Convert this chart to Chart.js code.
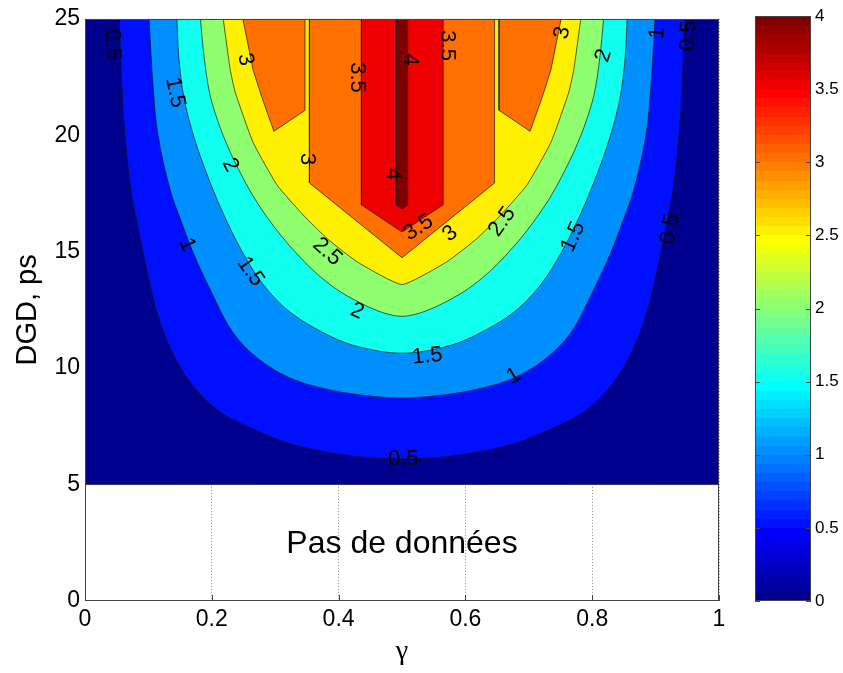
<!DOCTYPE html>
<html><head><meta charset="utf-8">
<script src="https://cdn.jsdelivr.net/npm/chart.js@4.4.1/dist/chart.umd.min.js"></script>
<style>
html,body{margin:0;padding:0;background:#fff;}
#wrap{position:relative;width:843px;height:673px;overflow:hidden;}
#main{position:absolute;left:0;top:0;}
#cbar{position:absolute;left:740px;top:0;}
</style></head><body>
<div id="wrap"><canvas id="main" width="843" height="673"></canvas><canvas id="cbar" width="103" height="673"></canvas></div>
<script>
// ---------------- data ----------------
const levels = [0.5, 1, 1.5, 2, 2.5, 3, 3.5, 4];
const xTicks = [0, 0.2, 0.4, 0.6, 0.8, 1];
const yTicks = [0, 5, 10, 15, 20, 25];
const cbTicks = [0, 0.5, 1, 1.5, 2, 2.5, 3, 3.5, 4];
const cbRange = [0, 4];

// lower edge of the region with data (γ, DGD)
const dataFloor = [[0, 5], [1, 5]];

// contour lines (γ, DGD ps)
const contour0_5 = [[0.054,25],[0.058,22.26],[0.063,20.04],[0.073,17.56],[0.082,16.28],[0.098,14.15],[0.118,12.01],[0.145,10.30],[0.177,9.02],[0.218,8.03],[0.272,7.31],[0.324,6.75],[0.387,6.37],[0.450,6.15],[0.500,6.11],[0.550,6.15],[0.613,6.37],[0.676,6.75],[0.728,7.31],[0.782,8.03],[0.823,9.02],[0.855,10.30],[0.882,12.01],[0.902,14.15],[0.918,16.28],[0.927,17.56],[0.937,20.04],[0.942,22.26],[0.946,25]];
const contour1_0 = [[0.101,25],[0.107,22.26],[0.115,20.04],[0.134,17.69],[0.152,16.28],[0.172,14.87],[0.199,13.29],[0.232,11.58],[0.272,10.43],[0.324,9.57],[0.387,9.06],[0.450,8.80],[0.500,8.72],[0.550,8.80],[0.613,9.06],[0.676,9.57],[0.728,10.43],[0.768,11.58],[0.801,13.29],[0.828,14.87],[0.848,16.28],[0.866,17.69],[0.885,20.04],[0.893,22.26],[0.899,25]];
const contour1_5 = [[0.145,25],[0.148,23.33],[0.156,21.62],[0.172,19.91],[0.194,18.21],[0.219,16.58],[0.248,15.00],[0.281,13.59],[0.324,12.39],[0.387,11.37],[0.434,10.90],[0.500,10.64],[0.566,10.90],[0.613,11.37],[0.676,12.39],[0.719,13.59],[0.752,15.00],[0.781,16.58],[0.806,18.21],[0.828,19.91],[0.844,21.62],[0.852,23.33],[0.855,25]];
const contour2_0 = [[0.182,25],[0.188,23.33],[0.197,21.75],[0.213,20.34],[0.235,18.93],[0.268,17.26],[0.308,15.73],[0.355,14.32],[0.395,13.42],[0.434,12.80],[0.469,12.39],[0.500,12.22],[0.531,12.39],[0.566,12.80],[0.605,13.42],[0.645,14.32],[0.692,15.73],[0.732,17.26],[0.765,18.93],[0.787,20.34],[0.803,21.75],[0.812,23.33],[0.818,25]];
const contour2_5 = [[0.218,25],[0.229,22.82],[0.237,21.84],[0.265,19.70],[0.303,17.86],[0.344,16.58],[0.382,15.56],[0.429,14.57],[0.500,13.59],[0.571,14.57],[0.618,15.56],[0.656,16.58],[0.697,17.86],[0.735,19.70],[0.763,21.84],[0.771,22.82],[0.782,25]];
const contour3_0Left = [[0.249,25],[0.265,22.82],[0.279,21.62],[0.298,20.17],[0.347,21.07],[0.347,25]];
const contour3_0Mid = [[0.354,25],[0.354,17.95],[0.500,14.74],[0.646,17.95],[0.646,25]];
const contour3_0Right = [[0.653,25],[0.653,21.07],[0.702,20.17],[0.721,21.62],[0.735,22.82],[0.751,25]];
const contour3_5 = [[0.436,25],[0.436,17.01],[0.500,15.85],[0.565,17.01],[0.565,25]];
const contour4_0 = [[0.491,25],[0.491,17.01],[0.500,16.84],[0.509,17.01],[0.509,25]];

// inline contour labels: text, γ, DGD, angle (deg)
const contourLabels = [
  ['0.5',0.043,23.89,88],['1.5',0.142,21.84,78],['3',0.253,23.25,76],['3.5',0.429,22.48,90],
  ['4',0.513,23.25,90],['3.5',0.571,23.85,90],['3',0.350,18.97,90],['2',0.229,18.72,62],
  ['4',0.486,18.33,90],['1',0.161,15.30,65],['1.5',0.261,14.15,55],['2.5',0.382,15.00,42],
  ['2',0.429,12.44,24],['1.5',0.540,10.51,-6],['0.5',0.502,6.11,0],['1',0.676,9.66,-31],
  ['3.5',0.526,16.03,-33],['3',0.576,15.77,-39],['2.5',0.658,16.28,-55],['1.5',0.770,15.64,-66],
  ['0.5',0.923,15.98,-80],['3',0.753,24.40,-78],['2',0.818,23.42,-72],['1',0.903,24.40,-85],['0.5',0.952,24.27,-88]
];
const noDataText = 'Pas de données';
const noDataPos = [0.5, 2.05];

// ---------------- styling ----------------
const SANS = "'Liberation Sans', Arial, Helvetica, sans-serif";
Chart.defaults.font.family = SANS;
function clamp(v){ return Math.max(0, Math.min(1, v)); }
function jet64(j){
  const r = clamp(Math.min((j-23)/16, (71-j)/16));
  const g = clamp(Math.min((j-7)/16, (55-j)/16));
  const b = clamp(Math.min((j+9)/16, (39-j)/16));
  return `rgb(${Math.round(r*255)},${Math.round(g*255)},${Math.round(b*255)})`;
}
function bandColor(level){ return jet64(Math.min(63, Math.round(level/cbRange[1]*64))); }

const regions = [
  {level:0, pts:dataFloor, smooth:0},
  {level:levels[0], pts:contour0_5, smooth:0.35},
  {level:levels[1], pts:contour1_0, smooth:0.35},
  {level:levels[2], pts:contour1_5, smooth:0.35},
  {level:levels[3], pts:contour2_0, smooth:0.3},
  {level:levels[4], pts:contour2_5, smooth:0.15},
  {level:levels[5], pts:contour3_0Left, smooth:0},
  {level:levels[5], pts:contour3_0Mid, smooth:0},
  {level:levels[5], pts:contour3_0Right, smooth:0},
  {level:levels[6], pts:contour3_5, smooth:0},
  {level:levels[7], pts:contour4_0, smooth:0}
];

const datasets = regions.map(r => ({
  data: r.pts.map(p => ({x:p[0], y:p[1]})),
  showLine: true,
  fill: 'end',
  backgroundColor: bandColor(r.level),
  borderColor: 'rgba(20,20,20,0.85)',
  borderWidth: 0.8,
  pointRadius: 0,
  pointHoverRadius: 0,
  tension: r.smooth,
  order: 10 - r.level*2
}));

const labelPlugin = {
  id: 'labels',
  afterDatasetsDraw(chart){
    const {ctx, scales:{x, y}} = chart;
    ctx.save();
    ctx.fillStyle = '#000';
    ctx.textAlign = 'center';
    ctx.textBaseline = 'middle';
    ctx.font = `22px ${SANS}`;
    contourLabels.forEach(([t, gx, gy, a]) => {
      ctx.save();
      ctx.translate(x.getPixelForValue(gx), y.getPixelForValue(gy));
      ctx.rotate(a*Math.PI/180);
      ctx.fillText(t, 0, 0);
      ctx.restore();
    });
    ctx.font = `32px ${SANS}`;
    ctx.textBaseline = 'alphabetic';
    ctx.fillText(noDataText, x.getPixelForValue(noDataPos[0]), y.getPixelForValue(noDataPos[1]));
    ctx.restore();
  },
  afterDraw(chart){
    const {ctx, chartArea:a, scales:{x}} = chart;
    ctx.save();
    ctx.strokeStyle = '#444';
    ctx.lineWidth = 1;
    ctx.strokeRect(Math.round(a.left)+0.5, Math.round(a.top)+0.5, Math.round(a.right-a.left)-1, Math.round(a.bottom-a.top)-1);
    ctx.beginPath();
    xTicks.forEach(v => {
      const px = Math.round(x.getPixelForValue(v)) + 0.5;
      ctx.moveTo(px, a.bottom); ctx.lineTo(px, a.bottom - 6);
    });
    ctx.stroke();
    ctx.restore();
  }
};

new Chart(document.getElementById('main'), {
  type: 'scatter',
  data: { datasets },
  options: {
    responsive: false,
    animation: false,
    events: [],
    layout: { padding: { top: 16, right: 124, left: 0, bottom: 0 } },
    plugins: { legend: {display:false}, tooltip: {enabled:false} },
    scales: {
      x: {
        type: 'linear', min: 0, max: 1,
        afterBuildTicks: s => { s.ticks = xTicks.map(v => ({value:v})); },
        afterFit: s => { s.height = 72; },
        ticks: { autoSkip:false, maxRotation:0, padding:5, color:'#000', font:{size:23}, callback: v => String(v) },
        grid: { display:true, drawTicks:false, color:'#8a8a8a', lineWidth:1 },
        border: { display:false, dash:[1,2] },
        title: { display:true, text:'γ', color:'#000', font:{family:"'Liberation Serif','DejaVu Serif',serif", size:28}, padding:{top:0, bottom:5} }
      },
      y: {
        type: 'linear', min: 0, max: 25,
        afterBuildTicks: s => { s.ticks = yTicks.map(v => ({value:v})); },
        afterFit: s => { s.width = 85; },
        ticks: { padding:5, color:'#000', font:{size:23}, callback: v => String(v) },
        grid: { display:false, drawTicks:false },
        border: { display:false },
        title: { display:true, text:'DGD, ps', color:'#000', font:{size:29}, padding:{top:11, bottom:0} }
      }
    }
  },
  plugins: [labelPlugin]
});

// ---------------- colorbar ----------------
function cbGradient(context){
  const chart = context.chart;
  const a = chart.chartArea;
  if (!a) return jet64(32);
  const g = chart.ctx.createLinearGradient(0, a.bottom, 0, a.top);
  for (let j = 0; j < 64; j++) {
    const c = jet64(j);
    g.addColorStop(j/64, c);
    g.addColorStop(Math.min(1, (j+1)/64 - 0.0001), c);
  }
  return g;
}
const cbFrame = {
  id: 'cbFrame',
  afterDraw(chart){
    const {ctx, chartArea:a, scales:{y}} = chart;
    ctx.save();
    ctx.strokeStyle = '#444';
    ctx.lineWidth = 1;
    ctx.beginPath();
    cbTicks.forEach(v => {
      const py = Math.round(y.getPixelForValue(v)) + 0.5;
      ctx.moveTo(a.left, py); ctx.lineTo(a.left + 5, py);
      ctx.moveTo(a.right - 5, py); ctx.lineTo(a.right, py);
    });
    ctx.stroke();
    ctx.strokeRect(Math.round(a.left)+0.5, Math.round(a.top)+0.5, Math.round(a.right-a.left)-1, Math.round(a.bottom-a.top)-1);
    ctx.restore();
  }
};
new Chart(document.getElementById('cbar'), {
  type: 'bar',
  data: { labels: [''], datasets: [{ data: [cbRange], backgroundColor: cbGradient, borderWidth: 0, barPercentage: 1, categoryPercentage: 1 }] },
  options: {
    responsive: false,
    animation: false,
    events: [],
    layout: { padding: { left: 15, top: 16, bottom: 72, right: 0 } },
    plugins: { legend: {display:false}, tooltip: {enabled:false} },
    scales: {
      x: { display: false },
      y: {
        position: 'right', min: cbRange[0], max: cbRange[1],
        afterBuildTicks: s => { s.ticks = cbTicks.map(v => ({value:v})); },
        afterFit: s => { s.width = 32; },
        ticks: { padding:4, color:'#000', font:{size:17}, callback: v => String(v) },
        grid: { display:false, drawTicks:false },
        border: { display:false }
      }
    }
  },
  plugins: [cbFrame]
});
</script>
</body></html>
